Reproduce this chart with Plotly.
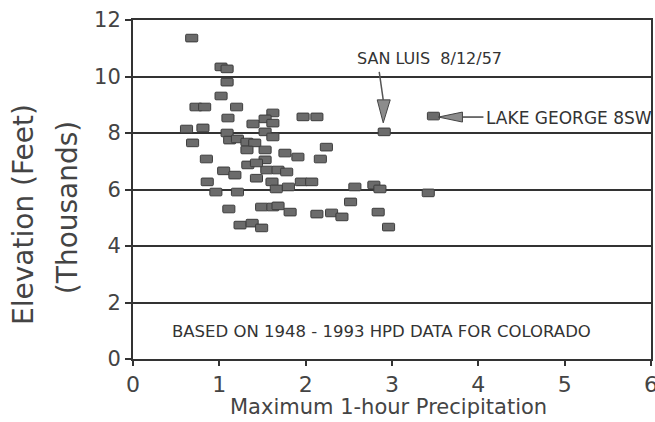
import plotly.graph_objects as go

# Maximum 1-hour precipitation (inches) and station elevation (thousands of feet)
precip = [0.68, 1.02, 1.09, 1.09, 1.02, 0.73, 0.83, 1.20, 1.10, 1.62,
          1.53, 1.62, 1.39, 1.97, 2.13, 0.62, 0.81, 1.53, 1.62, 1.09,
          1.12, 1.21, 1.32, 1.41, 0.69, 2.24, 1.32, 1.53, 1.53, 1.55,
          1.76, 1.91, 2.17, 0.85, 1.33, 1.43, 1.05, 1.18, 1.43, 1.68,
          1.78, 1.61, 1.66, 1.80, 1.95, 2.07, 0.86, 0.96, 1.21, 2.57,
          2.79, 2.86, 3.42, 2.52, 1.11, 1.49, 1.62, 1.68, 1.82, 2.13,
          2.30, 2.42, 2.84, 2.96, 1.24, 1.38, 1.49, 2.91, 3.48]
elev = [11.36, 10.34, 10.27, 9.80, 9.31, 8.92, 8.92, 8.92, 8.53, 8.71,
        8.50, 8.35, 8.32, 8.57, 8.57, 8.14, 8.18, 8.04, 7.86, 8.00,
        7.75, 7.79, 7.68, 7.65, 7.65, 7.50, 7.40, 7.40, 7.05, 6.69,
        7.29, 7.15, 7.08, 7.08, 6.87, 6.94, 6.66, 6.51, 6.40, 6.69,
        6.62, 6.27, 6.02, 6.09, 6.27, 6.27, 6.27, 5.91, 5.91, 6.09,
        6.16, 6.02, 5.88, 5.56, 5.31, 5.38, 5.38, 5.42, 5.20, 5.13,
        5.17, 5.03, 5.20, 4.67, 4.74, 4.81, 4.64, 8.04, 8.60]

SAN_LUIS = 67      # index of the San Luis 8/12/57 event
LAKE_GEORGE = 68   # index of the Lake George 8SW event

x_ticks = [0, 1, 2, 3, 4, 5, 6]
y_ticks = [0, 2, 4, 6, 8, 10, 12]

MARK_W = 0.14    # marker width (x units)
MARK_H = 0.27    # marker height (y units)

INK = "#333333"
FONT = "DejaVu Sans"

fig = go.Figure()
fig.add_trace(go.Bar(
    x=precip,
    y=[MARK_H] * len(elev),
    base=[e - MARK_H / 2 for e in elev],
    width=MARK_W,
    marker=dict(color="#6b6b6b", line=dict(color="#3c3c3c", width=1), cornerradius=1),
    hoverinfo="skip",
))

sx, sy = precip[SAN_LUIS], elev[SAN_LUIS]
lx, ly = precip[LAKE_GEORGE], elev[LAKE_GEORGE]

shapes = [
    # San Luis arrow
    dict(type="path", xref="x", yref="y", xsizemode="pixel", ysizemode="pixel",
         xanchor=sx, yanchor=sy, path="M -5,60 L -1,32",
         line=dict(color="#555555", width=1.5)),
    dict(type="path", xref="x", yref="y", xsizemode="pixel", ysizemode="pixel",
         xanchor=sx, yanchor=sy, path="M -1,9 L -7,32 L 6,32 Z",
         fillcolor="#8c8c8c", line=dict(color="#444444", width=1)),
    # Lake George arrow
    dict(type="path", xref="x", yref="y", xsizemode="pixel", ysizemode="pixel",
         xanchor=lx, yanchor=ly, path="M 29,-1 L 50,-1",
         line=dict(color="#444444", width=1.5)),
    dict(type="path", xref="x", yref="y", xsizemode="pixel", ysizemode="pixel",
         xanchor=lx, yanchor=ly, path="M 5,-1 L 29,4 L 29,-6 Z",
         fillcolor="#8c8c8c", line=dict(color="#444444", width=1)),
]

annotations = [
    dict(x=3.43, y=10.65, xref="x", yref="y", text="SAN LUIS  8/12/57",
         showarrow=False, xanchor="center", yanchor="middle",
         font=dict(family=FONT, size=16, color=INK)),
    dict(x=4.06, y=8.52, xref="x", yref="y", text="LAKE GEORGE 8SW",
         showarrow=False, xanchor="left", yanchor="middle",
         font=dict(family=FONT, size=17, color=INK)),
    dict(x=2.88, y=0.96, xref="x", yref="y",
         text="BASED ON 1948 - 1993 HPD DATA FOR COLORADO",
         showarrow=False, xanchor="center", yanchor="middle",
         font=dict(family=FONT, size=16.5, color=INK)),
    dict(x=0.5, y=0, xref="paper", yref="paper", text="Maximum 1-hour Precipitation",
         showarrow=False, xanchor="center", yanchor="middle", yshift=-48, xshift=-4,
         font=dict(family=FONT, size=21, color="#444444")),
    dict(x=0, y=0.425, xref="paper", yref="paper", text="Elevation (Feet)",
         showarrow=False, textangle=-90, xanchor="center", yanchor="middle", xshift=-109,
         font=dict(family=FONT, size=28, color="#444444")),
    dict(x=0, y=0.445, xref="paper", yref="paper", text="(Thousands)",
         showarrow=False, textangle=-90, xanchor="center", yanchor="middle", xshift=-66,
         font=dict(family=FONT, size=28, color="#444444")),
]

fig.update_layout(
    width=655, height=422,
    margin=dict(l=133, r=4, t=20, b=63, autoexpand=False),
    paper_bgcolor="white", plot_bgcolor="white",
    barmode="overlay", showlegend=False,
    shapes=shapes, annotations=annotations,
    font=dict(family=FONT, color="#444444"),
)
fig.update_xaxes(
    range=[0, 6], tickvals=x_ticks, ticktext=[str(v) for v in x_ticks],
    showgrid=False, zeroline=False, automargin=False,
    showline=True, linecolor=INK, linewidth=2, mirror=True,
    ticks="outside", ticklen=5, tickwidth=1.5, tickcolor=INK,
    ticklabelstandoff=0, ticklabeloverflow="allow",
    tickfont=dict(family=FONT, size=22, color="#444444"),
)
fig.update_yaxes(
    range=[0, 12], tickvals=y_ticks, ticktext=[str(v) for v in y_ticks],
    showgrid=True, gridcolor=INK, gridwidth=2, zeroline=False, automargin=False,
    showline=True, linecolor=INK, linewidth=2, mirror=True,
    ticks="outside", ticklen=6, tickwidth=1.5, tickcolor=INK,
    tickfont=dict(family=FONT, size=21, color="#444444"),
)

fig.write_html("out.html")
